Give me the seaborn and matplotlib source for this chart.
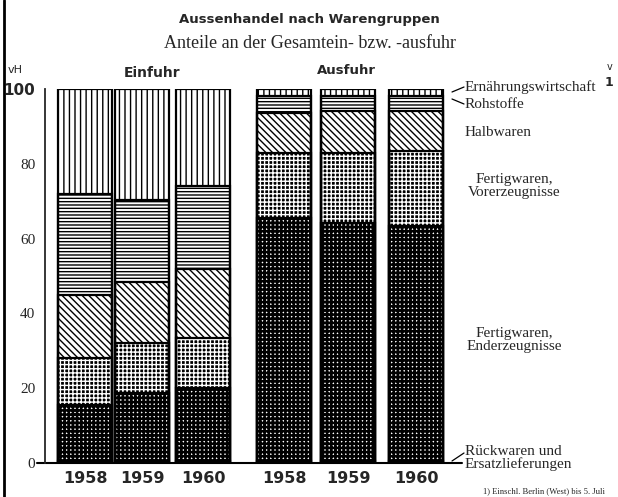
import matplotlib
matplotlib.use("Agg")
import matplotlib.pyplot as plt
import seaborn as sns
import numpy as np

# Anteile in vH, Reihenfolge: Einfuhr 1958, 1959, 1960, Ausfuhr 1958, 1959, 1960
years = ["1958", "1959", "1960", "1958", "1959", "1960"]
rueckwaren = [0.5, 0.5, 0.5, 0.6, 0.6, 0.6]
enderzeugnisse = [15.0, 18.2, 19.5, 65.0, 63.7, 62.9]
vorerzeugnisse = [12.5, 13.3, 13.3, 17.4, 18.7, 20.0]
halbwaren = [17.0, 16.3, 18.7, 10.6, 11.1, 10.5]
rohstoffe = [26.8, 22.1, 22.0, 4.5, 4.0, 4.1]
ernaehrung = [28.2, 29.6, 26.0, 1.9, 1.9, 1.9]
y_ticks = [0, 20, 40, 60, 80, 100]

sns.set_style("white")
serif = ["Liberation Serif", "DejaVu Serif"]
sans = ["DejaVu Sans"]

W, H = 618, 497
fig = plt.figure(figsize=(W / 100, H / 100), dpi=100)
# Achse in Pixelkoordinaten: x 45..462, y(0)=463, y(100)=89
ax = fig.add_axes([45 / W, 1 - 463 / H, (462 - 45) / W, (463 - 89) / H])

bar_pos = [85, 142, 203, 284, 348, 416]
bar_w = 54 / 57

# (Werte, Fläche, Schraffurfarbe, Schraffur, Linienstärke)
layers = [
    (rueckwaren, "white", "black", "", 1.0),
    (enderzeugnisse, "white", "black", "++++", 1.9),
    (vorerzeugnisse, "black", "white", "++++", 1.0),
    (halbwaren, "white", "black", "\\\\\\\\\\", 1.0),
    (rohstoffe, "white", "black", "-----", 1.0),
    (ernaehrung, "white", "black", "|||", 1.0),
]
cum = np.cumsum([l[0] for l in layers], axis=0)

# gestapelte Balken: von oben nach unten übereinander zeichnen
for k in range(len(layers) - 1, -1, -1):
    _, face, hc, hatch, hlw = layers[k]
    n0 = len(ax.patches)
    with plt.rc_context({"hatch.linewidth": hlw}):
        sns.barplot(x=bar_pos, y=cum[k], native_scale=True, width=bar_w,
                    color=face, saturation=1, edgecolor=hc, hatch=hatch,
                    linewidth=0, errorbar=None, ax=ax)
    for p in ax.patches[n0:]:
        if hasattr(p, "set_hatch_linewidth"):
            p.set_hatch_linewidth(hlw)

# Umrisse
for k in range(len(layers)):
    sns.barplot(x=bar_pos, y=cum[k], native_scale=True, width=bar_w,
                fill=False, color="black", edgecolor="black", linewidth=1.6,
                errorbar=None, ax=ax)

ax.set_xlim(45, 462)
ax.set_ylim(0, 100)
sns.despine(ax=ax, bottom=True)
ax.spines["left"].set_linewidth(1.3)
ax.plot([37, 462], [0, 0], color="black", lw=1.5, clip_on=False)

ax.set_yticks(y_ticks)
ax.set_yticklabels([str(t) for t in y_ticks], fontsize=11, family=serif)
ax.get_yticklabels()[-1].set_fontweight("bold")
ax.get_yticklabels()[-1].set_family(sans)
ax.set_yticks(range(10, 100, 20), minor=True)
ax.tick_params(axis="y", which="major", direction="inout", length=12, width=1.2, pad=1)
ax.tick_params(axis="y", which="minor", direction="inout", length=6, width=1.0)

ax.set_xticks(bar_pos)
ax.set_xticklabels(years, fontsize=11.5, fontweight="bold", family=sans)
ax.tick_params(axis="x", length=0, pad=6)
ax.set_xlabel("")
ax.set_ylabel("")

# Titel und Beschriftungen
fig.text(309 / W, 1 - 20 / H, "Aussenhandel nach Warengruppen", ha="center", va="center",
         fontsize=9.5, fontweight="bold", family=sans)
fig.text(310 / W, 1 - 43 / H, "Anteile an der Gesamtein- bzw. -ausfuhr", ha="center", va="center",
         fontsize=13, family=serif)
fig.text(15 / W, 1 - 70 / H, "vH", ha="center", va="center", fontsize=8, family=sans)
fig.text(152 / W, 1 - 73 / H, "Einfuhr", ha="center", va="center", fontsize=10,
         fontweight="bold", family=sans)
fig.text(346 / W, 1 - 71 / H, "Ausfuhr", ha="center", va="center", fontsize=9.5,
         fontweight="bold", family=sans)

labels = [
    ("Ernährungswirtschaft", 465, 87, "left"),
    ("Rohstoffe", 465, 105, "left"),
    ("Halbwaren", 465, 132, "left"),
    ("Fertigwaren,\nVorerzeugnisse", 514, 186, "center"),
    ("Fertigwaren,\nEnderzeugnisse", 514, 340, "center"),
    ("Rückwaren und\nErsatzlieferungen", 465, 458, "left"),
]
for txt, x, y, ha in labels:
    fig.text(x / W, 1 - y / H, txt, ha=ha, va="center", fontsize=11,
             family=serif, linespacing=1.0)

# Hinweislinien
for (x0, y0), (x1, y1) in [((452, 92), (464, 87)), ((452, 99), (464, 104)),
                           ((452, 461), (464, 453))]:
    fig.add_artist(plt.Line2D([x0 / W, x1 / W], [1 - y0 / H, 1 - y1 / H],
                              color="black", lw=0.9))

fig.text(483 / W, 1 - 491 / H, "1) Einschl. Berlin (West) bis 5. Juli", ha="left",
         va="center", fontsize=6.2, family=serif)
fig.text(605 / W, 1 - 83 / H, "1", ha="left", va="center", fontsize=9,
         fontweight="bold", family=sans)
fig.text(607 / W, 1 - 67 / H, "v", ha="left", va="center", fontsize=7, family=sans)

# Seitenrand links
fig.add_artist(plt.Line2D([4 / W, 4 / W], [0, 1], color="black", lw=2))

fig.savefig("out.png", dpi=100)
